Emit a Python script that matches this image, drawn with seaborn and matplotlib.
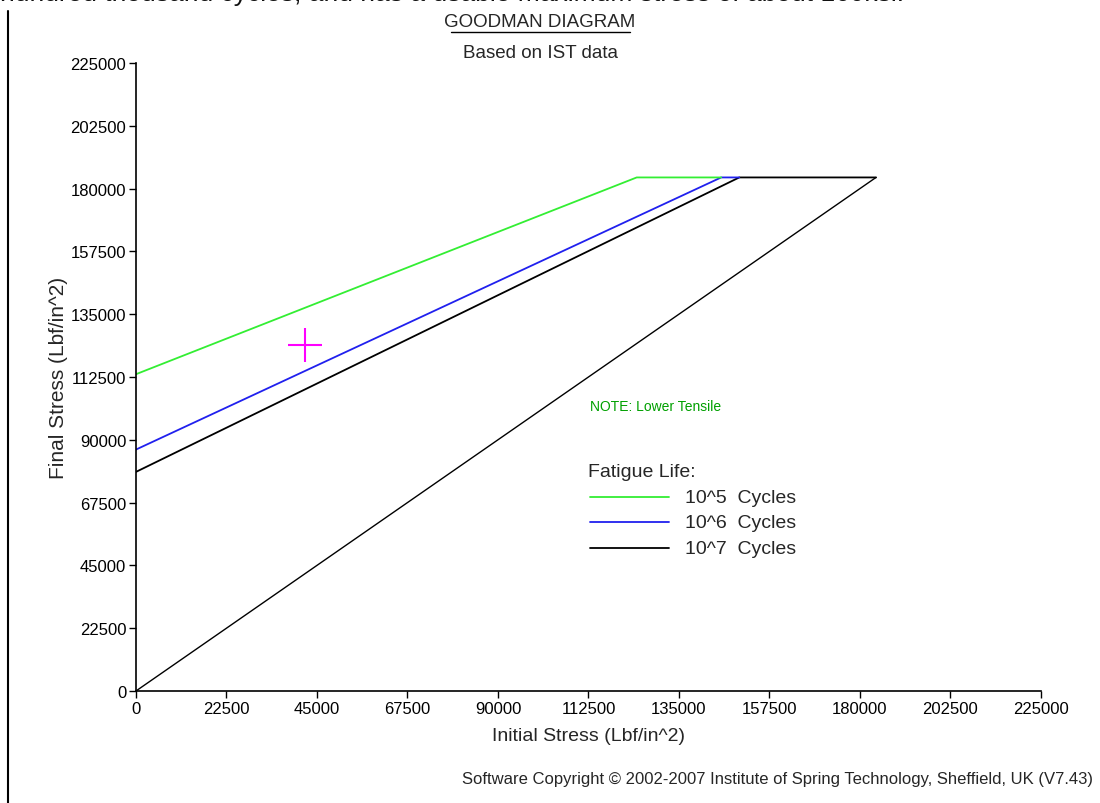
import numpy as np
import pandas as pd
import seaborn as sns
import matplotlib.pyplot as plt
from matplotlib.lines import Line2D

# Goodman lines (initial stress, final stress)
life_labels = ["10^5  Cycles", "10^6  Cycles", "10^7  Cycles"]
line_colors = ["#33ee33", "#2020ee", "#000000"]
init_stress = [
    [0, 124500, 145500],
    [0, 145500, 150000],
    [0, 150000, 184000],
]
final_stress = [
    [113500, 184000, 184000],
    [86500, 184000, 184000],
    [78500, 184000, 184000],
]
# lower tensile limit line
tensile_x = [0, 184000]
tensile_y = [0, 184000]
# design point
point_x = [42000]
point_y = [124000]

ticks = np.arange(0, 225001, 22500)

sns.set_style("white")
plt.rcParams["font.family"] = ["Liberation Sans", "DejaVu Sans"]

fig = plt.figure(figsize=(11, 8.04), dpi=100)
ax = fig.add_axes([0.1236, 0.1393, 0.8227, 0.7811])

# draw black first so the coloured ones sit on top
for i in [2, 1, 0]:
    df = pd.DataFrame({"x": init_stress[i], "y": final_stress[i]})
    sns.lineplot(data=df, x="x", y="y", color=line_colors[i], lw=1.3,
                 sort=False, ax=ax, legend=False)
sns.lineplot(x=tensile_x, y=tensile_y, color="black", lw=1.0, ax=ax)
sns.scatterplot(x=point_x, y=point_y, marker="+", s=600, color="#ff00ff",
                linewidth=1.5, ax=ax, zorder=5)

ax.set_xlim(0, 225000)
ax.set_ylim(0, 225000)
ax.set_xticks(ticks)
ax.set_yticks(ticks)
ax.set_xticklabels([str(t) for t in ticks])
ax.set_yticklabels([str(t) for t in ticks])
ax.tick_params(direction="out", length=5, width=1, labelsize=12, colors="black",
               bottom=True, left=True, pad=2)
for s in ["top", "right"]:
    ax.spines[s].set_visible(False)
for s in ["left", "bottom"]:
    ax.spines[s].set_color("black")
    ax.spines[s].set_linewidth(1.2)
ax.set_xlabel("Initial Stress (Lbf/in^2)", fontsize=14, labelpad=8)
ax.set_ylabel("Final Stress (Lbf/in^2)", fontsize=15, labelpad=2)

# titles
fig.text(0.491, 0.972, "GOODMAN DIAGRAM", ha="center", va="center", fontsize=13.5)
fig.add_artist(Line2D([0.410, 0.573], [0.959, 0.959], color="black", lw=1))
fig.text(0.491, 0.933, "Based on IST data", ha="center", va="center", fontsize=13.5)

# note and legend block
ax.text(112800, 102000, "NOTE: Lower Tensile", color="#00a000", fontsize=10,
        va="center", ha="left")
ax.text(112500, 78700, "Fatigue Life:", fontsize=14, va="center", ha="left")
leg_y = [69500, 60500, 51200]
for i in range(3):
    ax.plot([112800, 132500], [leg_y[i], leg_y[i]], color=line_colors[i], lw=1.3)
    ax.text(136600, leg_y[i], life_labels[i], fontsize=14, va="center", ha="left")

fig.text(0.994, 0.030, "Software Copyright \u00a9 2002-2007 Institute of Spring Technology, Sheffield, UK (V7.43)",
         ha="right", va="center", fontsize=12)

# page fragments around the screenshot (first line is cut off at the top, as in the screenshot)
fig.text(0.0, 1.008, "hundred thousand cycles, and has a usable maximum stress of about 160ksi.",
         ha="left", va="center", fontsize=19, color="#111111")
fig.add_artist(Line2D([0.0075, 0.0075], [0.0, 0.985], color="black", lw=1.5))

fig.savefig("out.png", dpi=100)
